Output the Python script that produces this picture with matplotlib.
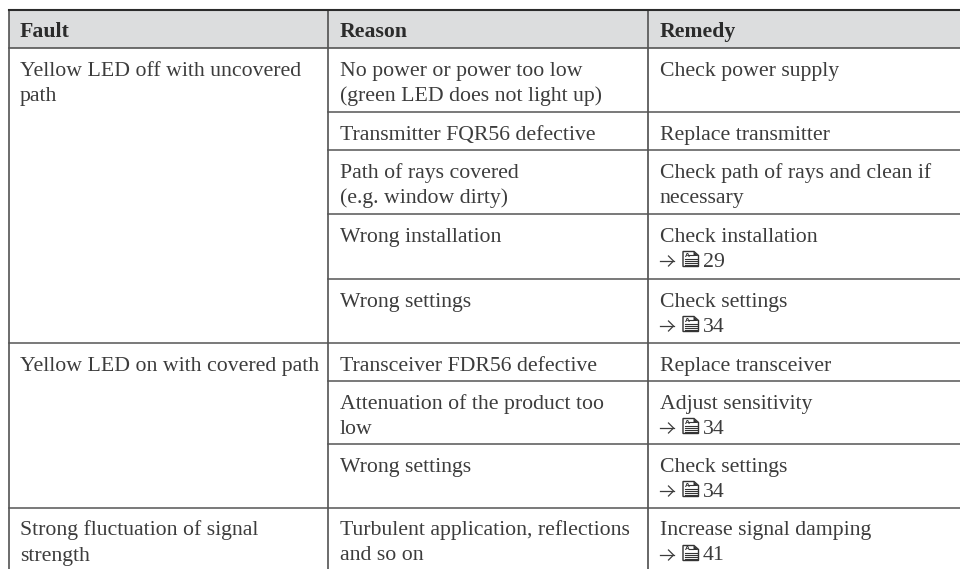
import matplotlib
matplotlib.use('Agg')
import matplotlib.pyplot as plt
from matplotlib.patches import Rectangle, Polygon

headers = ['Fault', 'Reason', 'Remedy']
faults = ['Yellow LED off with uncovered\npath', 'Yellow LED on with covered path',
          'Strong fluctuation of signal\nstrength']
fault_rows = [0, 5, 8]
reasons = ['No power or power too low\n(green LED does not light up)',
           'Transmitter FQR56 defective',
           'Path of rays covered\n(e.g. window dirty)',
           'Wrong installation',
           'Wrong settings',
           'Transceiver FDR56 defective',
           'Attenuation of the product too\nlow',
           'Wrong settings',
           'Turbulent application, reflections\nand so on']
remedies = ['Check power supply', 'Replace transmitter',
            'Check path of rays and clean if\nnecessary',
            'Check installation', 'Check settings', 'Replace transceiver',
            'Adjust sensitivity', 'Check settings', 'Increase signal damping']
page_refs = [None, None, None, '29', '34', None, '34', '34', '41']

# layout in pixels
W, H = 960, 569
col_x = [8.5, 328, 648]
row_y = [48, 112, 150, 214, 279, 343, 381, 444, 508, 600]
TEXT = '#3c3c3c'
FONT = 'Liberation Serif'
FS = 15.7

fig = plt.figure(figsize=(W / 100, H / 100), dpi=100)
ax = fig.add_axes([0, 0, 1, 1])
ax.set_xlim(0, W)
ax.set_ylim(H, 0)
ax.axis('off')


def cell(col, y, s):
    for i, line in enumerate(s.split('\n')):
        ax.text(col_x[col] + 11.5, y + 27.5 + i * 25, line, family=FONT,
                fontsize=FS, color=TEXT, va='baseline', ha='left')


def doc_icon(x, base):
    # little manual page symbol with folded corner
    ax.add_patch(Polygon([(x, base - 15), (x + 11, base - 15), (x + 15.5, base - 11),
                          (x + 15.5, base), (x, base)], closed=True, fc='white', ec='#333333', lw=1.0))
    ax.add_patch(Polygon([(x + 10.5, base - 15), (x + 15.5, base - 10.5), (x + 10.5, base - 10.5)],
                         closed=True, fc='#333333', ec='none'))
    ax.text(x + 1.5, base - 10, 'A', family='DejaVu Sans', fontsize=4.5, fontweight='bold',
            color='#333333', va='baseline')
    ax.plot([x + 6, x + 9.5], [base - 12, base - 12], color='#333333', lw=0.8)
    for k in range(4):
        ax.plot([x + 1.5, x + 14], [base - 8 + k * 2.2] * 2, color='#333333', lw=0.8)


def arrow(x, base):
    ax.plot([x, x + 13.5], [base - 5.5] * 2, color=TEXT, lw=0.9)
    ax.plot([x + 8.5, x + 13.5, x + 8.5], [base - 10.5, base - 5.5, base - 0.5], color=TEXT, lw=0.9)


ax.add_patch(Rectangle((col_x[0], 10), W - col_x[0], row_y[0] - 10, fc='#dcddde', ec='none'))

for xv, c in zip(col_x, ['#444444', '#444444', '#666666']):
    ax.plot([xv, xv], [9, H], color=c, lw=1.1 if xv < 600 else 1.4, solid_capstyle='butt')
ax.plot([col_x[0], W], [9.5, 9.5], color='#2b2b2b', lw=1.5)
ax.plot([col_x[0], W], [row_y[0]] * 2, color='#555555', lw=1.2)

for r in range(9):
    if r + 1 < 9:
        x0 = col_x[0] if r + 1 in fault_rows else col_x[1]
        ax.plot([x0, W], [row_y[r + 1]] * 2, color='#555555', lw=1.1)
    cell(1, row_y[r], reasons[r])
    cell(2, row_y[r], remedies[r])
    if page_refs[r]:
        base = row_y[r] + 52.5
        arrow(660, base)
        doc_icon(683, base)
        ax.text(703, base, page_refs[r], family=FONT, fontsize=FS, color=TEXT, va='baseline')

for c, h in enumerate(headers):
    ax.text(col_x[c] + 11.5, 36.5, h, family=FONT, fontsize=FS, fontweight='bold',
            color='#2b2b2b', va='baseline')
for r, f in zip(fault_rows, faults):
    cell(0, row_y[r], f)

fig.savefig('out.png', dpi=100)
